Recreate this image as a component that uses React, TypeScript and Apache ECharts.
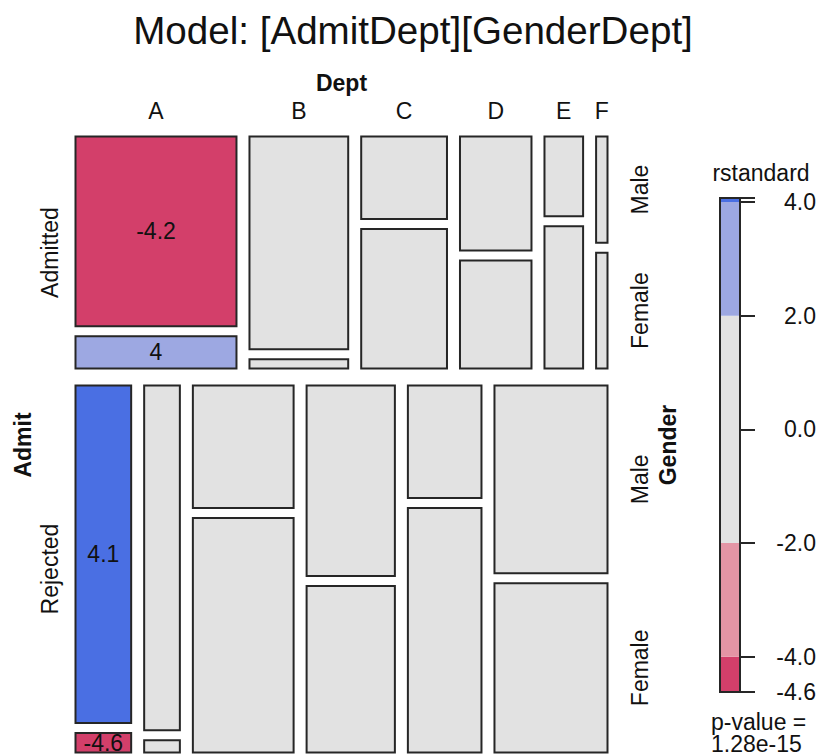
import React, { useEffect, useRef } from 'react';
import * as echarts from 'echarts';

// ---- data (UCB admissions, read from the mosaic) ----
const depts = ['A', 'B', 'C', 'D', 'E', 'F'];
const admitLevels = ['Admitted', 'Rejected'];
const genders = ['Male', 'Female'];

const admittedMale = [512, 353, 120, 138, 53, 22];
const admittedFemale = [89, 17, 202, 131, 94, 24];
const rejectedMale = [313, 207, 205, 279, 138, 351];
const rejectedFemale = [19, 8, 391, 244, 299, 317];

// standardized residuals (only |r| >= 2 are printed in the cells)
const residAdmittedMale = [-4.18, -0.5, 0.87, -0.55, 1.0, -0.62];
const residAdmittedFemale = [3.98, 0.5, -0.87, 0.55, -1.0, 0.62];
const residRejectedMale = [4.07, 0.5, -0.87, 0.55, -1.0, 0.62];
const residRejectedFemale = [-4.62, -0.5, 0.87, -0.55, 1.0, -0.62];

const legendTicks = [-4, -2, 0, 2, 4];
const shadeBreaks = [-4, -2, 2, 4];
const pValueText = '1.28e-15';
const titleText = 'Model: [AdmitDept][GenderDept]';

const FONT = '"Liberation Sans", Arial, Helvetica, sans-serif';
const GAP_ADMIT = 16;
const GAP_DEPT = 12;
const GAP_GENDER = 9;

const countTable = [
  [admittedMale, admittedFemale],
  [rejectedMale, rejectedFemale],
];
const residTable = [
  [residAdmittedMale, residAdmittedFemale],
  [residRejectedMale, residRejectedFemale],
];

function shade(r: number) {
  if (r >= 4) return '#4A6FE3';
  if (r >= 2) return '#9DA8E2';
  if (r > -2) return '#E2E2E2';
  if (r > -4) return '#E495A5';
  return '#D33F6A';
}

function fmtResid(r: number) {
  return String(Math.round(r * 10) / 10);
}

const sum = (a: number[]) => a.reduce((s, v) => s + v, 0);

function layoutCell(a: number, d: number, g: number, left: number, top: number, W: number, H: number) {
  const rowTotals = countTable.map((row) => sum(row[0]) + sum(row[1]));
  const N = sum(rowTotals);
  const rowHs = rowTotals.map((t) => ((H - GAP_ADMIT) * t) / N);
  const rowY = top + (a === 0 ? 0 : rowHs[0] + GAP_ADMIT);
  const rowH = rowHs[a];
  const colTotals = depts.map((_, i) => countTable[a][0][i] + countTable[a][1][i]);
  const contentW = W - (depts.length - 1) * GAP_DEPT;
  let x = left;
  for (let i = 0; i < d; i++) x += (contentW * colTotals[i]) / rowTotals[a] + GAP_DEPT;
  const w = (contentW * colTotals[d]) / rowTotals[a];
  const contentH = rowH - GAP_GENDER;
  const maleH = (contentH * countTable[a][0][d]) / colTotals[d];
  const femaleH = (contentH * countTable[a][1][d]) / colTotals[d];
  const y = g === 0 ? rowY : rowY + maleH + GAP_GENDER;
  const h = g === 0 ? maleH : femaleH;
  return { x, y, w, h, rowY, rowH };
}

export default function App() {
  const ref = useRef<HTMLDivElement>(null);

  useEffect(() => {
    if (!ref.current) return;
    const chart = echarts.init(ref.current, null, { renderer: 'svg' });

    const cellData: number[][] = [];
    for (let a = 0; a < 2; a++)
      for (let d = 0; d < depts.length; d++)
        for (let g = 0; g < 2; g++)
          cellData.push([a, d, g, countTable[a][g][d], residTable[a][g][d]]);

    const allResid = residTable.flat(2);
    const rMin = Math.min(...allResid);
    const rMax = Math.max(...allResid);
    const bandEdges = [rMin, ...shadeBreaks, rMax];
    const bandData = bandEdges.slice(0, -1).map((lo, i) => [lo, bandEdges[i + 1]]);

    const labelStyle = (text: string, bold = false, size = 23) => ({
      text,
      x: 0,
      y: 0,
      align: 'center',
      verticalAlign: 'middle',
      fontSize: size,
      fontFamily: FONT,
      fontWeight: bold ? 'bold' : 'normal',
      fill: '#111',
    });

    const option: any = {
      animation: false,
      backgroundColor: '#ffffff',
      grid: [
        { left: 75, top: 136, width: 533, height: 617 },
        { left: 720, top: 198, width: 20, height: 494 },
      ],
      xAxis: [
        { type: 'value', gridIndex: 0, min: 0, max: 1, show: false },
        { type: 'value', gridIndex: 1, min: 0, max: 1, show: false },
      ],
      yAxis: [
        { type: 'value', gridIndex: 0, min: 0, max: 1, inverse: true, show: false },
        {
          type: 'value',
          gridIndex: 1,
          min: rMin,
          max: rMax,
          position: 'right',
          axisLine: { show: true, onZero: false, lineStyle: { color: '#262626', width: 2 } },
          splitLine: { show: false },
          axisTick: {
            show: true,
            length: 15,
            customValues: [rMin, ...legendTicks, rMax],
            lineStyle: { color: '#262626', width: 2 },
          },
          axisLabel: {
            show: true,
            customValues: [rMin, ...legendTicks],
            formatter: (v: number) => v.toFixed(1),
            align: 'right',
            margin: 76,
            fontSize: 23,
            fontFamily: FONT,
            color: '#111',
          },
        },
      ],
      series: [
        {
          type: 'custom',
          xAxisIndex: 0,
          yAxisIndex: 0,
          clip: false,
          data: cellData,
          renderItem: (params: any, api: any) => {
            const a = api.value(0);
            const d = api.value(1);
            const g = api.value(2);
            const r = api.value(4);
            const p0 = api.coord([0, 0]);
            const p1 = api.coord([1, 1]);
            const left = p0[0];
            const top = p0[1];
            const W = p1[0] - p0[0];
            const H = p1[1] - p0[1];
            const c = layoutCell(a, d, g, left, top, W, H);
            const children: any[] = [
              {
                type: 'rect',
                shape: { x: c.x + 0.5, y: c.y + 0.5, width: c.w - 1, height: c.h - 1 },
                style: { fill: shade(r), stroke: '#262626', lineWidth: 2 },
              },
            ];
            if (Math.abs(r) >= 2) {
              children.push({
                type: 'text',
                x: c.x + c.w / 2,
                y: c.y + c.h / 2,
                style: labelStyle(fmtResid(r)),
              });
            }
            if (a === 0 && g === 0) {
              children.push({
                type: 'text',
                x: c.x + c.w / 2,
                y: top - 25,
                style: labelStyle(depts[d]),
              });
            }
            if (d === depts.length - 1) {
              children.push({
                type: 'text',
                x: left + W + 32,
                y: c.y + c.h / 2,
                rotation: Math.PI / 2,
                style: labelStyle(genders[g]),
              });
            }
            if (d === 0 && g === 0) {
              children.push({
                type: 'text',
                x: left - 25,
                y: c.rowY + c.rowH / 2,
                rotation: Math.PI / 2,
                style: labelStyle(admitLevels[a]),
              });
            }
            return { type: 'group', children };
          },
        },
        {
          type: 'custom',
          xAxisIndex: 1,
          yAxisIndex: 1,
          clip: false,
          data: bandData,
          renderItem: (params: any, api: any) => {
            const lo = api.value(0);
            const hi = api.value(1);
            const p0 = api.coord([0, hi]);
            const p1 = api.coord([1, lo]);
            return {
              type: 'rect',
              shape: { x: p0[0], y: p0[1], width: p1[0] - p0[0], height: p1[1] - p0[1] },
              style: { fill: shade((lo + hi) / 2), stroke: 'none' },
            };
          },
        },
        {
          type: 'custom',
          xAxisIndex: 1,
          yAxisIndex: 1,
          clip: false,
          z: 5,
          data: [[rMin, rMax]],
          renderItem: (params: any, api: any) => {
            const p0 = api.coord([0, api.value(1)]);
            const p1 = api.coord([1, api.value(0)]);
            return {
              type: 'rect',
              shape: { x: p0[0], y: p0[1], width: p1[0] - p0[0], height: p1[1] - p0[1] },
              style: { fill: 'none', stroke: '#262626', lineWidth: 2 },
            };
          },
        },
      ],
      graphic: [
        {
          type: 'text',
          x: 413,
          y: 30,
          style: { ...labelStyle(titleText, false, 38.6) },
        },
        { type: 'text', x: 341.5, y: 83, style: labelStyle('Dept', true) },
        { type: 'text', x: 22.5, y: 445, rotation: Math.PI / 2, style: labelStyle('Admit', true) },
        { type: 'text', x: 668, y: 445, rotation: Math.PI / 2, style: labelStyle('Gender', true) },
        { type: 'text', x: 761, y: 173, style: labelStyle('rstandard') },
        {
          type: 'text',
          x: 711,
          y: 722,
          style: { ...labelStyle('p-value ='), align: 'left' },
        },
        {
          type: 'text',
          x: 711,
          y: 744,
          style: { ...labelStyle(pValueText), align: 'left', lineHeight: 22 },
        },
      ],
    };

    chart.setOption(option);
    return () => chart.dispose();
  }, []);

  return (
    <div
      ref={ref}
      style={{ position: 'absolute', left: 0, top: 0, width: 821, height: 755 }}
    />
  );
}
